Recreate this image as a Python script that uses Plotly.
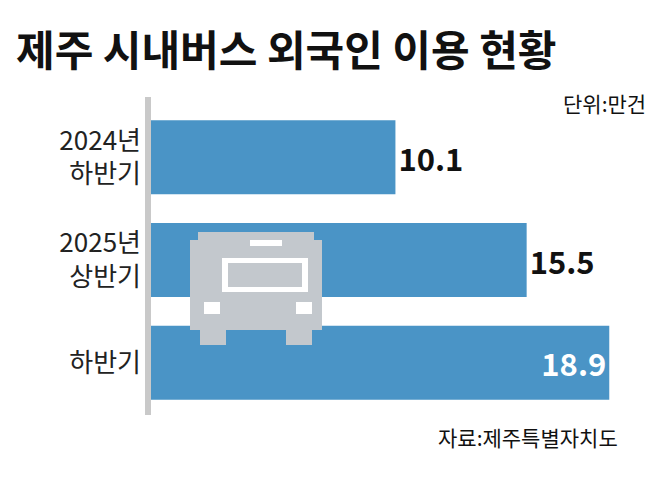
import plotly.graph_objects as go

categories = ["2024년<br>하반기", "2025년<br>상반기", "하반기"]
values = [10.1, 15.5, 18.9]

# page body has an 8px default margin; work in window pixels and shift
OFF = 8
W, H = 658 - OFF, 479 - OFF
L, R, T, B = 150 - OFF, 0, 106 - OFF, 73 - OFF
PW, PH = W - L - R, H - T - B


def px(x, y):
    return (x - OFF - L) / PW, (H - B - (y - OFF)) / PH


fig = go.Figure()
fig.add_bar(
    y=categories, x=values, orientation="h", width=0.72,
    marker=dict(color="#4a94c6", line_width=0),
    text=[f"<b>{v}</b>" for v in values],
    textposition=["outside", "outside", "inside"],
    insidetextanchor="end",
    textfont=dict(size=31, family="Noto Sans CJK KR", color=["#111", "#111", "white"]),
    cliponaxis=False,
)

shapes = []


def rect(x0, y0, x1, y1, color):
    a0, b0 = px(x0, y1)
    a1, b1 = px(x1, y0)
    shapes.append(dict(type="rect", xref="paper", yref="paper", x0=a0, y0=b0, x1=a1, y1=b1,
                       fillcolor=color, line_width=0, layer="above"))


# bus icon
rect(190, 240, 322, 330, "#c3c8cd")
rect(198, 232, 314, 242, "#c3c8cd")
rect(200, 330, 226, 345, "#c3c8cd")
rect(286, 330, 312, 345, "#c3c8cd")
rect(250, 240, 282, 246, "white")
rect(222, 258, 308, 292, "white")
rect(228, 263, 302, 287, "#c3c8cd")
rect(204, 302, 220, 314, "white")
rect(296, 302, 312, 314, "white")

# axis line
rect(145, 97, 151, 415, "#c9c9c9")


def ann(text, x, y, anchor, size):
    a, b = px(x, y)
    return dict(text=text, x=a, y=b, xref="paper", yref="paper", xanchor=anchor,
                yanchor="middle", showarrow=False, font=dict(size=size, color="#111"))


fig.update_layout(
    width=W, height=H, margin=dict(l=L, r=R, t=T, b=B, autoexpand=False),
    paper_bgcolor="white", plot_bgcolor="white", showlegend=False,
    shapes=shapes,
    font=dict(family="Noto Sans CJK KR", color="#111"),
    xaxis=dict(range=[0, PW / 24.3], visible=False),
    yaxis=dict(autorange="reversed", tickfont=dict(size=26, color="#222"),
               showline=False, ticks="", ticklabelstandoff=8, automargin=False),
    annotations=[
        ann("<b>제주 시내버스 외국인 이용 현황</b>", 14, 47, "left", 42),
        ann("단위:만건", 648, 103, "right", 21),
        ann("자료:제주특별자치도", 620, 437, "right", 21),
    ],
)
fig.write_html("out.html")
